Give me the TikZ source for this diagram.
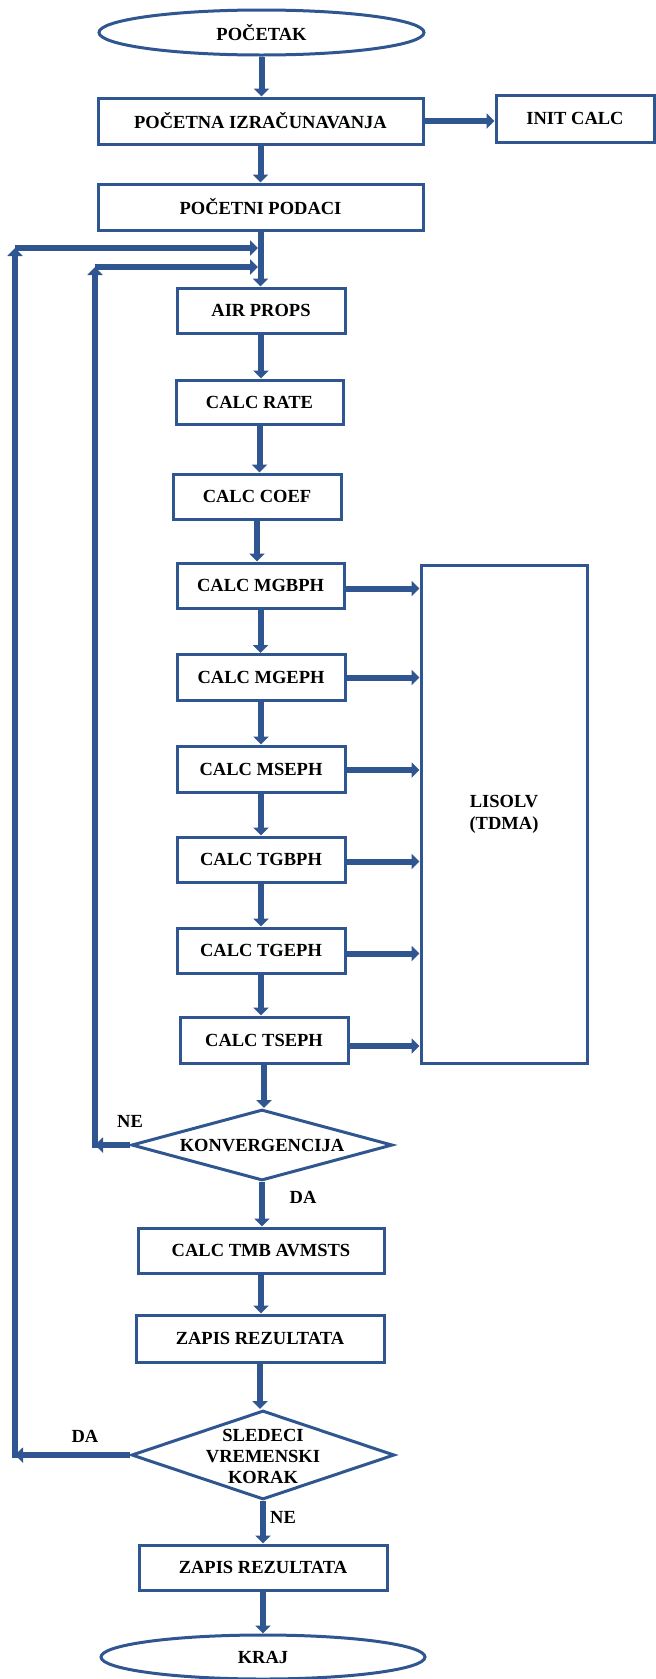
\documentclass[tikz,border=0pt]{standalone}
\usepackage{fontspec}
\setmainfont{Liberation Serif}
\usetikzlibrary{arrows.meta,shapes.geometric,calc}
\definecolor{fcblue}{RGB}{47,86,145}
\begin{document}
\begin{tikzpicture}[x=1pt,y=-1pt,
  every node/.style={font=\fontsize{18.5}{21.5}\selectfont\bfseries, text=black},
  box/.style 2 args={draw=fcblue, line width=3pt, rectangle, inner sep=0pt,
    minimum width=#1, minimum height=#2, align=center},
  term/.style={draw=fcblue, line width=3pt, ellipse, inner sep=0pt,
    minimum width=325pt, minimum height=45pt},
  dec/.style 2 args={draw=fcblue, line width=3pt, diamond, inner sep=0pt,
    minimum width=#1, minimum height=#2},
  lbl/.style={inner sep=0pt},
  arr/.style={draw=fcblue, line width=6pt, -{Triangle[length=8pt,width=15pt]}}
]
\path[use as bounding box] (0,0) rectangle (656,1679);

% nodes
\node[term] (start) at (261.5,32.5) {POČETAK};
\node[box={325pt}{46pt}] (b1) at (260.5,121) {POČETNA IZRAČUNAVANJA};
\node[box={158pt}{47pt}] (init) at (575,118.5) {INIT CALC};
\node[box={325pt}{46pt}] (b2) at (260.5,207) {POČETNI PODACI};
\node[box={168pt}{45pt}] (air) at (261,310.5) {AIR PROPS};
\node[box={167pt}{44pt}] (rate) at (259.5,402) {CALC RATE};
\node[box={168pt}{45pt}] (coef) at (257,496.5) {CALC COEF};
\node[box={167pt}{45pt}] (mgbph) at (260.5,585.5) {CALC MGBPH};
\node[box={168pt}{46pt}] (mgeph) at (261,677.5) {CALC MGEPH};
\node[box={168pt}{46pt}] (mseph) at (261,769) {CALC MSEPH};
\node[box={168pt}{45pt}] (tgbph) at (261,859.5) {CALC TGBPH};
\node[box={168pt}{45pt}] (tgeph) at (261,950.5) {CALC TGEPH};
\node[box={168pt}{46pt}] (tseph) at (264,1040) {CALC TSEPH};
\node[box={166pt}{498pt}, font=\fontsize{18.5}{22}\selectfont\bfseries] (lis) at (504,814) {LISOLV\\(TDMA)};
\node[dec={261pt}{71pt}] (konv) at (262,1145) {};
\node[lbl] (konvt) at (konv.center) {KONVERGENCIJA};
\node[box={246pt}{45pt}] (tmb) at (261,1250.5) {CALC TMB AVMSTS};
\node[box={248pt}{47pt}] (zap1) at (260,1338.5) {ZAPIS REZULTATA};
\node[dec={263pt}{89pt}] (sled) at (263,1455) {};
\node[lbl, align=center, font=\fontsize{18.5}{21}\selectfont\bfseries] (sledt) at (263,1456) {SLEDECI\\VREMENSKI\\KORAK};
\node[box={248pt}{45pt}] (zap2) at (263,1567.5) {ZAPIS REZULTATA};
\node[term, minimum width=324pt, minimum height=44pt] (kraj) at (263,1657) {KRAJ};

% labels
\node[lbl] (ne1) at (130,1121) {NE};
\node[lbl] (da1) at (303,1197) {DA};
\node[lbl] (da2) at (85,1436) {DA};
\node[lbl] (ne2) at (283,1517) {NE};

% loop coordinates
\coordinate (ca) at (15,1455);
\coordinate (cb) at (15,248);
\coordinate (ja) at (258,248);
\coordinate (cc) at (95,1145);
\coordinate (cd) at (95,267);
\coordinate (jb) at (258,267);
\coordinate (ca2) at (15,1458);
\coordinate (cc2) at (95,1148);

% starts of arrows to LISOLV
\coordinate (s1) at ($(mgbph.east)+(0,3)$);
\coordinate (s2) at (mgeph.east);
\coordinate (s3) at ($(mseph.east)+(0,1)$);
\coordinate (s4) at ($(tgbph.east)+(0,2)$);
\coordinate (s5) at ($(tgeph.east)+(0,3)$);
\coordinate (s6) at ($(tseph.east)+(0,6)$);

% main flow
\draw[arr] (start.south) -- (start.south |- b1.north);
\draw[arr] (b1.east) -- (b1.east -| init.west);
\draw[arr] (b1.south) -- (b1.south |- b2.north);
\draw[arr] (b2.south) -- (b2.south |- air.north);
\draw[arr] (air.south) -- (air.south |- rate.north);
\draw[arr] (rate.south) -- (rate.south |- coef.north);
\draw[arr] (coef.south) -- (coef.south |- mgbph.north);
\draw[arr] (mgbph.south) -- (mgbph.south |- mgeph.north);
\draw[arr] (mgeph.south) -- (mgeph.south |- mseph.north);
\draw[arr] (mseph.south) -- (mseph.south |- tgbph.north);
\draw[arr] (tgbph.south) -- (tgbph.south |- tgeph.north);
\draw[arr] (tgeph.south) -- (tgeph.south |- tseph.north);
\draw[arr] (tseph.south) -- (tseph.south |- konv.north);
\draw[arr] (konv.south) -- (konv.south |- tmb.north);
\draw[arr] (tmb.south) -- (tmb.south |- zap1.north);
\draw[arr] (zap1.south) -- (zap1.south |- sled.north);
\draw[arr] (sled.south) -- (sled.south |- zap2.north);
\draw[arr] (zap2.south) -- (zap2.south |- kraj.north);

% to LISOLV
\draw[arr] (s1) -- (s1 -| lis.west);
\draw[arr] (s2) -- (s2 -| lis.west);
\draw[arr] (s3) -- (s3 -| lis.west);
\draw[arr] (s4) -- (s4 -| lis.west);
\draw[arr] (s5) -- (s5 -| lis.west);
\draw[arr] (s6) -- (s6 -| lis.west);

% loops
\draw[arr] (konv.west) -- (cc);
\draw[arr] (cc2) -- (cd);
\draw[arr] (cd) -- (jb);
\draw[arr] (sled.west) -- (ca);
\draw[arr] (ca2) -- (cb);
\draw[arr] (cb) -- (ja);
\end{tikzpicture}
\end{document}
